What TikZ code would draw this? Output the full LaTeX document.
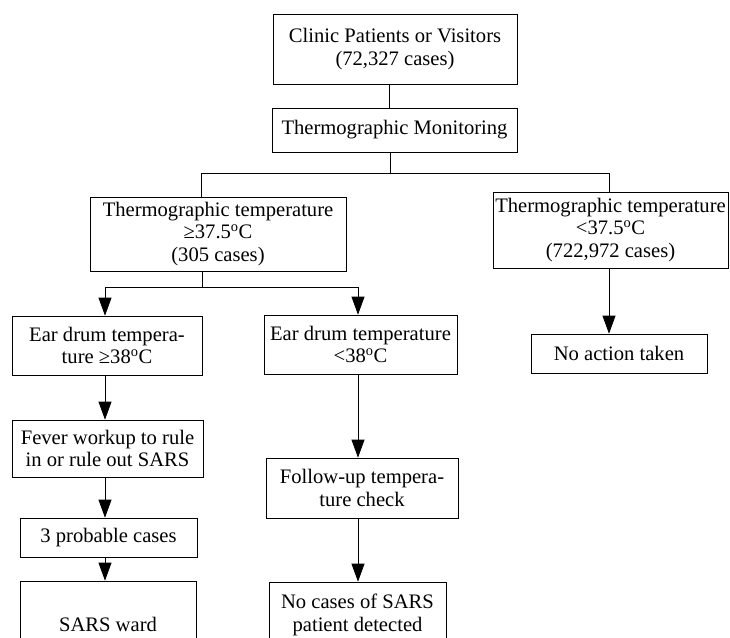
\documentclass[tikz,border=0pt]{standalone}
\usepackage{fontspec}
\setmainfont{Liberation Serif}
\usetikzlibrary{arrows.meta}
\newcommand{\dg}{\textsuperscript{o}}
\begin{document}
\begin{tikzpicture}[x=1pt,y=-1pt,
  box/.style={draw, line width=0.7pt, align=center, inner sep=0pt,
    font=\fontsize{20.6}{22.5}\selectfont},
  link/.style={line width=0.7pt},
  arr/.style={line width=0.7pt, -{Triangle[length=18pt,width=13pt]}}]
\useasboundingbox (0,0) rectangle (730,637);
% boxes
\node[box, minimum width=244pt, minimum height=70pt] (b1) at (395,49) {Clinic Patients or Visitors\\(72,327 cases)};
\node[box, minimum width=245pt, minimum height=44pt] (b2) at (394.5,130) {Thermographic Monitoring};
\node[box, minimum width=256pt, minimum height=74pt] (b3) at (218,234) {Thermographic temperature\\≥37.5\dg C\\(305 cases)};
\node[box, minimum width=235pt, minimum height=76pt] (b4) at (610.5,230) {Thermographic temperature\\<37.5\dg C\\(722,972 cases)};
\node[box, minimum width=176pt, minimum height=39pt] (b5) at (619,353.5) {No action taken};
\node[box, minimum width=190pt, minimum height=59pt] (b6) at (107,345.5) {Ear drum tempera-\\ture ≥38\dg C};
\node[box, minimum width=193pt, minimum height=59pt] (b7) at (360.5,344.5) {Ear drum temperature\\<38\dg C};
\node[box, minimum width=191pt, minimum height=57pt] (b8) at (107.5,448.5) {Fever workup to rule\\in or rule out SARS};
\node[box, minimum width=177pt, minimum height=39pt] (b9) at (108.5,537.5) {3 probable cases};
\node[box, minimum width=176pt, minimum height=86pt] (b10) at (108,624) {SARS ward};
\node[box, minimum width=192pt, minimum height=60pt] (b11) at (362,488) {Follow-up tempera-\\ture check};
\node[box, minimum width=177pt, minimum height=66pt] (b12) at (357.5,615) {No cases of SARS\\patient detected};
% junction coordinates
\coordinate (t1) at (389,0);
\coordinate (j1) at (390,173);
\coordinate (jl) at (201,173);
\coordinate (jr) at (609,173);
\coordinate (j2) at (202,287);
\coordinate (jl2) at (105,287);
\coordinate (jr2) at (358,287);
\coordinate (cl) at (105,0);
\coordinate (cr) at (358,0);
% connectors
\draw[link] (b1.south -| t1) -- (b2.north -| t1);
\draw[link] (b2.south -| j1) -- (j1);
\draw[link] (jl) -- (jr);
\draw[link] (jl) -- (b3.north -| jl);
\draw[link] (jr) -- (b4.north -| jr);
\draw[arr] (b4.south -| jr) -- (b5.north -| jr);
\draw[link] (b3.south -| j2) -- (j2);
\draw[link] (jl2) -- (jr2);
\draw[arr] (jl2) -- (b6.north -| jl2);
\draw[arr] (jr2) -- (b7.north -| jr2);
\draw[arr] (b6.south -| cl) -- (b8.north -| cl);
\draw[arr] (b8.south -| cl) -- (b9.north -| cl);
\draw[arr] (b9.south -| cl) -- (b10.north -| cl);
\draw[arr] (b7.south -| cr) -- (b11.north -| cr);
\draw[arr] (b11.south -| cr) -- (b12.north -| cr);
\end{tikzpicture}
\end{document}
